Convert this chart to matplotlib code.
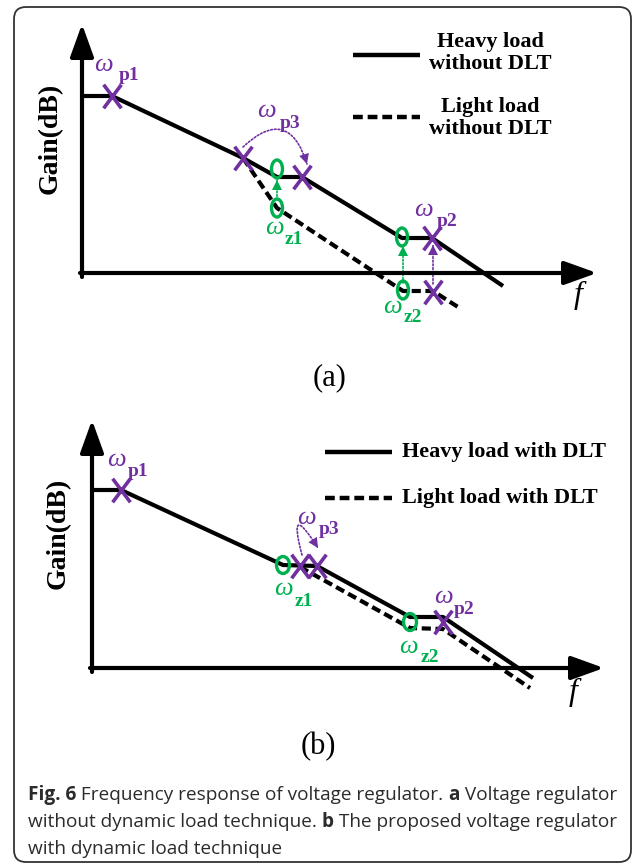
import numpy as np
import matplotlib
matplotlib.use('Agg')
import matplotlib.pyplot as plt
from matplotlib.path import Path
from matplotlib.patches import Ellipse, FancyArrowPatch, FancyBboxPatch

# diagram drawn in pixel units of the 634x864 picture
PURPLE = '#7030A0'
GREEN = '#00B050'
SERIF = 'Liberation Serif'

# ---- panel (a): without DLT
a_heavy_x = [82, 112, 243, 277, 302, 402, 432, 503]
a_heavy_y = [96, 96, 158, 177, 177, 238, 238, 286]
a_light_x = [243, 277, 403, 433, 458]
a_light_y = [158, 208, 291, 291, 307]
a_poles_x = [112, 243, 302, 432, 433]
a_poles_y = [96, 158, 177, 238, 292]
a_zeros_x = [277, 277, 402, 403]
a_zeros_y = [169, 208, 237, 290]
a_yaxis = [(82, 277), (82, 24)]
a_xaxis = [(80, 273), (597, 273)]

# ---- panel (b): with DLT
b_heavy_x = [92, 121, 283, 317, 410, 443, 533]
b_heavy_y = [490, 490, 565, 566, 617, 617, 678]
b_light_x = [300, 410, 443, 530]
b_light_y = [567, 628, 629, 688]
b_poles_x = [121, 300, 317, 443]
b_poles_y = [490, 566, 566, 622]
b_zeros_x = [283, 410]
b_zeros_y = [565, 622]
b_yaxis = [(92, 672), (92, 420)]
b_xaxis = [(90, 668), (604, 668)]

# labels: (omega pos, sub pos, subscript, color)
a_labels = [((103, 65), (129, 75), 'p1', PURPLE),
            ((266, 111), (290, 124), 'p3', PURPLE),
            ((274, 228), (294, 239), 'z1', GREEN),
            ((423, 210), (447, 222), 'p2', PURPLE),
            ((392, 307), (413, 318), 'z2', GREEN)]
b_labels = [((116, 460), (138, 472), 'p1', PURPLE),
            ((306, 518), (329, 530), 'p3', PURPLE),
            ((283, 589), (304, 601), 'z1', GREEN),
            ((443, 597), (464, 609), 'p2', PURPLE),
            ((408, 647), (430, 657), 'z2', GREEN)]

fig = plt.figure(figsize=(6.34, 8.64), dpi=100)
ax = fig.add_axes([0, 0, 1, 1])
ax.set_xlim(0, 634)
ax.set_ylim(864, 0)
ax.axis('off')

# frame
ax.add_patch(FancyBboxPatch((14, 7), 617, 855, boxstyle='round,pad=0,rounding_size=12',
                            fc='none', ec='#333333', lw=1.3))

cross = Path([(-0.75, -1), (0.75, 1), (-0.75, 1), (0.75, -1)],
             [Path.MOVETO, Path.LINETO, Path.MOVETO, Path.LINETO])
dash = (0, (2.2, 1.1))


def axis_arrow(p0, p1):
    ax.annotate('', xy=p1, xytext=p0,
                arrowprops=dict(arrowstyle='-|>,head_length=1.0,head_width=0.36',
                                lw=3, color='k', mutation_scale=20,
                                shrinkA=0, shrinkB=0))


def dotted_arrow(p0, p1, color, rad=0.0, lw=1.2):
    cs = 'arc3,rad=%s' % rad
    ax.add_patch(FancyArrowPatch(p0, p1, connectionstyle=cs, arrowstyle='-',
                                 color=color, lw=lw, linestyle=(0, (1, 1.2)),
                                 shrinkA=0, shrinkB=0))
    ax.add_patch(FancyArrowPatch(p0, p1, connectionstyle=cs,
                                 arrowstyle='-|>,head_length=0.6,head_width=0.3',
                                 color=color, lw=0, mutation_scale=12,
                                 shrinkA=0, shrinkB=0))


def panel(hx, hy, lx, ly, px, py, zx, zy, yax, xax, labels, zw, zh):
    axis_arrow(*yax)
    axis_arrow(*xax)
    ax.plot(hx, hy, color='k', lw=3, solid_capstyle='butt', zorder=3)
    ax.plot(lx, ly, color='k', lw=3, linestyle=dash, zorder=3)
    for x, y in zip(zx, zy):
        ax.add_patch(Ellipse((x, y), zw, zh, fc='none', ec=GREEN, lw=2.4, zorder=4))
    ax.plot(px, py, linestyle='none', marker=cross, ms=17, mew=2.6,
            color=PURPLE, zorder=5)
    for (w, s, sub, c) in labels:
        ax.text(w[0], w[1], '\u03c9', family=SERIF, style='italic', fontsize=19,
                color=c, ha='center', va='center')
        ax.text(s[0], s[1], sub, family=SERIF, weight='bold', fontsize=14,
                color=c, ha='center', va='center')


panel(a_heavy_x, a_heavy_y, a_light_x, a_light_y, a_poles_x, a_poles_y,
      a_zeros_x, a_zeros_y, a_yaxis, a_xaxis, a_labels, 11, 18)
panel(b_heavy_x, b_heavy_y, b_light_x, b_light_y, b_poles_x, b_poles_y,
      b_zeros_x, b_zeros_y, b_yaxis, b_xaxis, b_labels, 13, 17)

# moving poles / zeros
dotted_arrow((243, 147), (307, 164), PURPLE, rad=-0.8)
dotted_arrow((277, 200), (277, 180), GREEN)
dotted_arrow((403, 283), (403, 246), GREEN)
dotted_arrow((433, 284), (433, 245), PURPLE)
dotted_arrow((302, 555), (318, 548), PURPLE, rad=-3.3)

# axis titles
for (x, y) in [(50, 138), (58, 533)]:
    ax.text(x, y, 'Gain(dB)', family=SERIF, weight='bold', fontsize=20,
            rotation=90, ha='center', va='center')
for (x, y) in [(578, 295), (573, 692)]:
    ax.text(x, y, 'f', family=SERIF, style='italic', fontsize=23,
            ha='center', va='center')

# legends
ax.plot([353, 420], [55, 55], color='k', lw=3.2, solid_capstyle='butt')
ax.plot([353, 420], [117, 117], color='k', lw=3.2, linestyle=dash)
ax.text(490, 53, 'Heavy load\nwithout DLT', family=SERIF, weight='bold', fontsize=16,
        ha='center', va='center', linespacing=1.1)
ax.text(490, 118, 'Light load\nwithout DLT', family=SERIF, weight='bold', fontsize=16,
        ha='center', va='center', linespacing=1.1)
ax.plot([325, 392], [452, 452], color='k', lw=3.2, solid_capstyle='butt')
ax.plot([325, 392], [498, 498], color='k', lw=3.2, linestyle=dash)
ax.text(402, 452, 'Heavy load with DLT', family=SERIF, weight='bold', fontsize=16,
        ha='left', va='center')
ax.text(402, 498, 'Light load with DLT', family=SERIF, weight='bold', fontsize=16,
        ha='left', va='center')

ax.text(330, 378, '(a)', family=SERIF, fontsize=22, ha='center', va='center')
ax.text(318, 747, '(b)', family=SERIF, fontsize=22, ha='center', va='center')

# caption with bold pieces
caption = [
    [('Fig. 6', 'bold'), (' Frequency response of voltage regulator. ', 'normal'),
     ('a', 'bold'), (' Voltage regulator', 'normal')],
    [('without dynamic load technique. ', 'normal'), ('b', 'bold'),
     (' The proposed voltage regulator', 'normal')],
    [('with dynamic load technique', 'normal')],
]
cap_y = [795, 822, 849]
renderer = fig.canvas.get_renderer()
for pieces, y in zip(caption, cap_y):
    x = 28
    for txt, wt in pieces:
        t = ax.text(x, y, txt, family='Open Sans', weight=wt, fontsize=13.7,
                    color='#2B2B2B', ha='left', va='center')
        x += t.get_window_extent(renderer).width

fig.savefig('out.png', dpi=100)
